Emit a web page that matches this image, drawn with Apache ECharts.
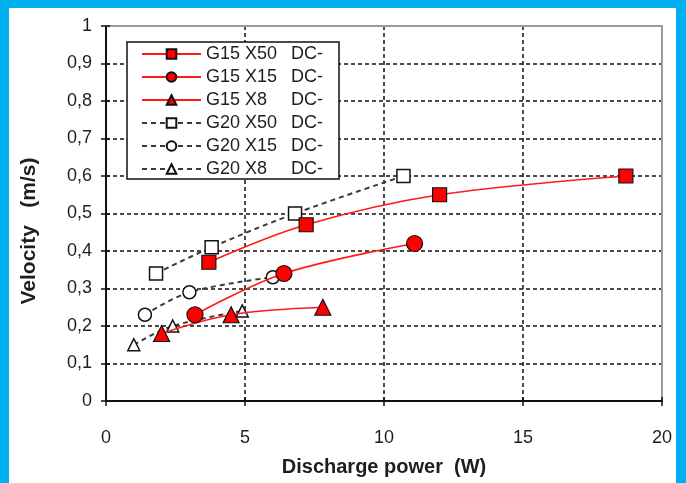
<!DOCTYPE html>
<html><head><meta charset="utf-8">
<script src="https://cdn.jsdelivr.net/npm/echarts@6/dist/echarts.min.js"></script>
<style>
html,body{margin:0;padding:0;background:#00B0F0;width:686px;height:483px;overflow:hidden}
#box{position:absolute;left:9px;top:8px;width:667px;height:475px;background:#fff}
#chart{width:667px;height:475px}
</style></head>
<body><div id="box"><div id="chart"></div></div>
<script>
// Data
const seriesNames = ['G15 X50', 'G15 X15', 'G15 X8', 'G20 X50', 'G20 X15', 'G20 X8'];
const g15x50X = [3.7, 7.2, 12.0, 18.7];
const g15x50Y = [0.37, 0.47, 0.55, 0.60];
const g15x15X = [3.2, 6.4, 11.1];
const g15x15Y = [0.23, 0.34, 0.42];
const g15x8X = [2.0, 4.5, 7.8];
const g15x8Y = [0.18, 0.23, 0.25];
const g20x50X = [1.8, 3.8, 6.8, 10.7];
const g20x50Y = [0.34, 0.41, 0.50, 0.60];
const g20x15X = [1.4, 3.0, 6.0];
const g20x15Y = [0.23, 0.29, 0.33];
const g20x8X = [1.0, 2.4, 4.9];
const g20x8Y = [0.15, 0.20, 0.24];
const xTicks = [0, 5, 10, 15, 20];
const yTicks = [0, 0.1, 0.2, 0.3, 0.4, 0.5, 0.6, 0.7, 0.8, 0.9, 1];

const pairs = (xs, ys) => xs.map((x, i) => [x, ys[i]]);
const FONT = 'Liberation Sans, Arial, sans-serif';
const TXT = '#1e1e1e';

function redSeries(name, xs, ys, symbol, size) {
  return {
    name, type: 'line', smooth: 0.35, data: pairs(xs, ys),
    symbol, symbolSize: size, showSymbol: true,
    lineStyle: { color: '#FF1a1a', width: 1.6, type: 'solid' },
    itemStyle: { color: '#FF0000', borderColor: '#111', borderWidth: 1.2 },
    z: 3
  };
}
function openSeries(name, xs, ys, symbol, size) {
  return {
    name, type: 'line', smooth: 0.35, data: pairs(xs, ys),
    symbol, symbolSize: size, showSymbol: true,
    lineStyle: { color: '#3a3a3a', width: 2, type: [5, 4] },
    itemStyle: { color: '#ffffff', borderColor: '#111', borderWidth: 1.5 },
    z: 2
  };
}

const chart = echarts.init(document.getElementById('chart'), null, { renderer: 'canvas' });
const gridBox = { left: 97, top: 18, width: 556, height: 375 };
chart.setOption({
  animation: false,
  backgroundColor: '#ffffff',
  textStyle: { fontFamily: FONT },
  grid: Object.assign({ show: false, containLabel: false }, gridBox),
  legend: {
    orient: 'vertical', left: 118, top: 34,
    data: seriesNames,
    backgroundColor: '#ffffff', borderColor: '#111', borderWidth: 1.5,
    padding: [3, 16, 1, 14],
    itemWidth: 59, itemHeight: 12, itemGap: 5,
    textStyle: {
      color: TXT, fontFamily: FONT, fontSize: 18,
      rich: { a: { width: 85, fontSize: 18, color: TXT, fontFamily: FONT }, b: { fontSize: 18, color: TXT, fontFamily: FONT } }
    },
    formatter: n => '{a|' + n + '}{b|DC-}',
    z: 10
  },
  xAxis: [
    {
      type: 'value', position: 'bottom', min: xTicks[0], max: xTicks[xTicks.length - 1], interval: 5,
      axisLine: { show: true, onZero: false, lineStyle: { color: '#111', width: 2 } },
      axisTick: { show: true, length: 5, lineStyle: { color: '#111', width: 1.5 } },
      axisLabel: { color: TXT, fontSize: 18, fontFamily: FONT, margin: 28 },
      splitLine: { show: true, lineStyle: { color: '#111', width: 1.5, type: [4, 3] } },
      name: 'Discharge power  (W)', nameLocation: 'middle', nameGap: 56,
      nameTextStyle: { color: TXT, fontSize: 20, fontWeight: 'bold', fontFamily: FONT }
    },
    {
      type: 'value', position: 'bottom', min: 0, max: 20, interval: 5,
      axisLine: { show: false }, axisLabel: { show: false }, splitLine: { show: false },
      axisTick: { show: true, inside: true, length: 4, lineStyle: { color: '#111', width: 1.5 } }
    },
    {
      type: 'value', position: 'top', min: 0, max: 20, interval: 5,
      axisLine: { show: true, onZero: false, lineStyle: { color: '#9a9a9a', width: 2 } },
      axisTick: { show: false }, axisLabel: { show: false }, splitLine: { show: false }
    }
  ],
  yAxis: [
    {
      type: 'value', position: 'left', min: yTicks[0], max: yTicks[yTicks.length - 1], interval: 0.1,
      axisLine: { show: true, onZero: false, lineStyle: { color: '#111', width: 2 } },
      axisTick: { show: true, length: 5, lineStyle: { color: '#111', width: 1.5 } },
      axisLabel: { color: TXT, fontSize: 18, fontFamily: FONT, margin: 14,
        formatter: v => String(+v.toFixed(1)).replace('.', ',') },
      splitLine: { show: true, lineStyle: { color: '#111', width: 1.5, type: [4, 3] } },
      name: 'Velocity   (m/s)      ', nameLocation: 'middle', nameGap: 66, nameRotate: 90,
      nameTextStyle: { color: TXT, fontSize: 21, fontWeight: 'bold', fontFamily: FONT }
    },
    {
      type: 'value', position: 'left', min: 0, max: 1, interval: 0.1,
      axisLine: { show: false }, axisLabel: { show: false }, splitLine: { show: false },
      axisTick: { show: true, inside: true, length: 4, lineStyle: { color: '#111', width: 1.5 } }
    },
    {
      type: 'value', position: 'right', min: 0, max: 1, interval: 0.1,
      axisLine: { show: true, onZero: false, lineStyle: { color: '#9a9a9a', width: 2 } },
      axisTick: { show: false }, axisLabel: { show: false }, splitLine: { show: false }
    }
  ],
  series: [
    redSeries(seriesNames[0], g15x50X, g15x50Y, 'rect', 14),
    redSeries(seriesNames[1], g15x15X, g15x15Y, 'circle', 16),
    redSeries(seriesNames[2], g15x8X, g15x8Y, 'triangle', 16),
    openSeries(seriesNames[3], g20x50X, g20x50Y, 'rect', 13),
    openSeries(seriesNames[4], g20x15X, g20x15Y, 'circle', 13),
    openSeries(seriesNames[5], g20x8X, g20x8Y, 'triangle', 12)
  ]
});
</script></body></html>
